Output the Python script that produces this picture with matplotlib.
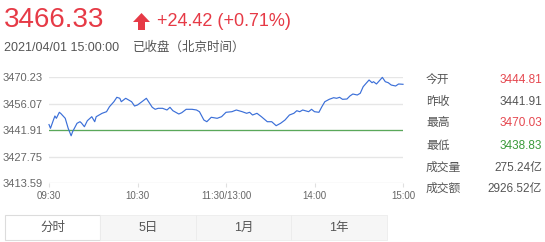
import matplotlib
matplotlib.use("Agg")
import matplotlib.pyplot as plt
from matplotlib.patches import Rectangle, Polygon

plt.rcParams['font.family'] = ['Liberation Sans', 'Noto Sans CJK SC']

# minutes since 09:30 (trading minutes, lunch break removed) and index level
minutes = [0, 1, 3, 4, 5, 7, 8, 10, 11, 13, 15, 16, 19, 21, 22, 24, 26, 29, 31, 32,
           36, 39, 41, 44, 46, 48, 49, 52, 54, 56, 58, 60, 63, 66, 70, 72, 74, 77,
           80, 82, 84, 88, 90, 93, 97, 100, 102, 105, 107, 110, 114, 117, 120, 124,
           127, 131, 134, 136, 138, 141, 144, 148, 151, 154, 157, 160, 163, 166, 168,
           170, 172, 176, 178, 180, 183, 185, 187, 190, 193, 195, 197, 199, 202, 204,
           206, 209, 211, 213, 215, 217, 219, 220, 222, 224, 226, 228, 230, 232, 235,
           237, 240]
prices = [3444.81, 3442.82, 3447.25, 3449.39, 3448.16, 3451.37, 3450.73, 3449.02,
          3448.16, 3442.82, 3438.83, 3441.00, 3445.49, 3446.34, 3445.65, 3443.67,
          3446.88, 3449.02, 3446.34, 3449.02, 3450.83, 3451.69, 3454.36, 3457.03,
          3459.38, 3458.85, 3457.03, 3458.85, 3457.94, 3457.03, 3454.73, 3455.27,
          3457.03, 3458.85, 3454.04, 3452.97, 3453.50, 3453.50, 3452.60, 3454.04,
          3452.22, 3450.46, 3451.15, 3452.97, 3452.97, 3452.60, 3451.69, 3447.25,
          3446.34, 3448.70, 3448.16, 3449.02, 3451.37, 3451.69, 3452.60, 3451.69,
          3450.83, 3451.37, 3449.92, 3450.83, 3449.02, 3446.34, 3446.34, 3444.21,
          3445.49, 3447.25, 3449.92, 3450.83, 3452.22, 3451.69, 3452.60, 3451.69,
          3452.97, 3451.69, 3451.37, 3454.36, 3457.03, 3458.31, 3459.17, 3458.85,
          3459.38, 3458.31, 3458.47, 3460.08, 3461.14, 3460.61, 3461.52, 3465.05,
          3466.86, 3468.63, 3467.18, 3467.72, 3466.49, 3468.25, 3470.03, 3467.72,
          3467.18, 3465.95, 3465.42, 3466.49, 3466.33]
prev_close = 3441.91

y_ticks = [3413.59, 3427.75, 3441.91, 3456.07, 3470.23]
x_ticks = [0, 60, 120, 180, 240]
x_labels = ['09:30', '10:30', '11:30/13:00', '14:00', '15:00']

info_names = ['今开', '昨收', '最高', '最低', '成交量', '成交额']
info_values = ['3444.81', '3441.91', '3470.03', '3438.83', '275.24亿', '2926.52亿']
info_colors = ['#e5474f', '#555555', '#e5474f', '#3a9a3a', '#555555', '#555555']

tabs = ['分时', '5日', '1月', '1年']

W, H = 545, 242
fig = plt.figure(figsize=(W / 100, H / 100), dpi=100)

def fx(px):
    return px / W

def fy(py):
    return 1 - py / H

ax = fig.add_axes([fx(49), fy(183), fx(354), 106 / H])
ax.plot(minutes, prices, color='#3b6fd8', lw=0.85, clip_on=False, zorder=3)
ax.axhline(prev_close, color='#5aa85a', lw=0.9, zorder=2)
ax.set_xlim(0, 240)
ax.set_ylim(y_ticks[0], y_ticks[-1])
ax.set_yticks(y_ticks)
ax.set_yticklabels(['%.2f' % v for v in y_ticks])
ax.set_xticks(x_ticks)
ax.set_xticklabels(x_labels)
ax.grid(axis='y', color='#e6e6e6', lw=1.0)
for s in ax.spines.values():
    s.set_visible(False)
ax.tick_params(axis='y', length=0, pad=4.5, labelsize=8, labelcolor='#666666')
ax.tick_params(axis='x', length=3, color='#e0e0e0', pad=2.5, labelsize=7,
               labelcolor='#666666')

# header
fig.text(fx(4), fy(20), '3466.33', fontsize=20, color='#e63a46', va='center')
arrow = Polygon([[fx(141.5), fy(13)], [fx(150), fy(22)], [fx(145), fy(22)],
                 [fx(145), fy(30)], [fx(138), fy(30)], [fx(138), fy(22)],
                 [fx(133), fy(22)]], closed=True, transform=fig.transFigure,
                facecolor='#e63a46', edgecolor='none')
fig.add_artist(arrow)
fig.text(fx(157), fy(21), '+24.42 (+0.71%)', fontsize=13, color='#e63a46', va='center')
fig.text(fx(4), fy(48), '2021/04/01 15:00:00', fontsize=9, color='#555555', va='center')
fig.text(fx(133), fy(48), '已收盘（北京时间）', fontsize=9, color='#555555', va='center')

# right info panel
info_y = [80, 102, 123, 146, 168, 189]
for name, val, col, yy in zip(info_names, info_values, info_colors, info_y):
    fig.text(fx(426), fy(yy), name, fontsize=8.5, color='#555555', va='center')
    fig.text(fx(542), fy(yy), val, fontsize=8.5, color=col, va='center', ha='right')

# bottom tabs
tab_x = [5, 100, 196, 291, 387]
for i, t in enumerate(tabs):
    x0, x1 = tab_x[i], tab_x[i + 1]
    if i == 0:
        r = Rectangle((fx(x0), fy(240)), fx(x1 - x0), 25 / H, transform=fig.transFigure,
                      facecolor='white', edgecolor='#dcdcdc', lw=0.8)
    else:
        r = Rectangle((fx(x0), fy(240)), fx(x1 - x0), 25 / H, transform=fig.transFigure,
                      facecolor='#f6f6f6', edgecolor='#ececec', lw=0.6)
    fig.add_artist(r)
    fig.text(fx((x0 + x1) / 2), fy(227.5), t, fontsize=9, color='#555555',
             ha='center', va='center')

fig.savefig('out.png', dpi=100)
